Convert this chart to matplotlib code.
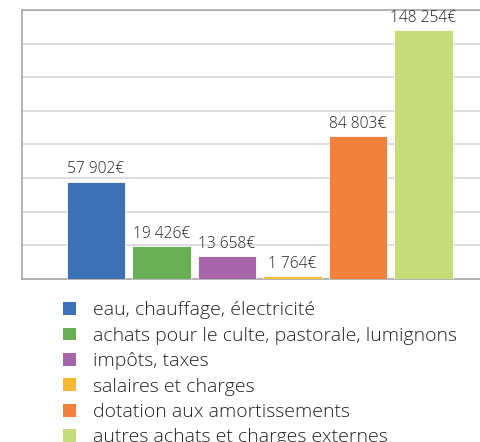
import matplotlib

matplotlib.use("Agg")
import matplotlib.pyplot as plt

plt.rcParams["font.family"] = ["Open Sans", "DejaVu Sans"]
plt.rcParams["font.weight"] = "light"

categories = [
    "eau, chauffage, électricité",
    "achats pour le culte, pastorale, lumignons",
    "impôts, taxes",
    "salaires et charges",
    "dotation aux amortissements",
    "autres achats et charges externes",
]
values = [57902, 19426, 13658, 1764, 84803, 148254]
value_labels = ["57 902€", "19 426€", "13 658€", "1 764€", "84 803€", "148 254€"]
colors = ["#3E71B8", "#6AAF55", "#A565A8", "#F7B832", "#F2813B", "#C5DC7A"]

TEXT = "#222222"
GRID = "#DEDEDE"
SPINE = "#A8A8A8"

fig = plt.figure(figsize=(4.8, 4.42), dpi=100)
ax = fig.add_axes([0.0458, 0.3688, 0.9866, 0.6086])

x = range(len(values))
bars = ax.bar(x, values, width=0.9, color=colors, edgecolor="white", linewidth=0.6, zorder=3)
ax.bar_label(bars, labels=value_labels, padding=3, fontsize=11.2, color=TEXT)

ax.set_xlim(-1.13, 6.1)
ax.set_ylim(0, 160000)
ax.set_yticks(range(0, 160001, 20000))
ax.yaxis.grid(True, color=GRID, linewidth=1.4, zorder=0)
ax.set_xticks([])
ax.tick_params(axis="y", length=0, labelleft=False)
for side in ["left", "top", "bottom", "right"]:
    ax.spines[side].set_color(SPINE)
    ax.spines[side].set_linewidth(1.2)

leg = fig.legend(
    bars, categories, loc="upper left", bbox_to_anchor=(0.131, 0.318),
    frameon=False, fontsize=14, handlelength=0.65, handleheight=0.65,
    handletextpad=0.9, labelspacing=0.38, borderaxespad=0, borderpad=0,
)
for t in leg.get_texts():
    t.set_color(TEXT)
for h in leg.legend_handles:
    h.set_edgecolor("none")

fig.savefig("out.png", dpi=100)
